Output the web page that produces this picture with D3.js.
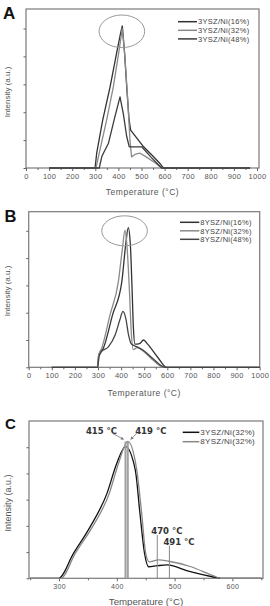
<!DOCTYPE html>
<html>
<head>
<meta charset="utf-8">
<script src="https://cdn.jsdelivr.net/npm/d3@7"></script>
<style>
  body { margin: 0; background: #fff; }
  text { font-family: "Liberation Sans", Arial, sans-serif; }
</style>
</head>
<body>
<script>
// ---- data (temperature in °C, intensity in a.u.) ----
const namesA = ["3YSZ/Ni(16%)", "3YSZ/Ni(32%)", "3YSZ/Ni(48%)"]
const namesB = ["8YSZ/Ni(16%)", "8YSZ/Ni(32%)", "8YSZ/Ni(48%)"]
const namesC = ["3YSZ/Ni(32%)", "8YSZ/Ni(32%)"]

const a16 = [[100,0],[299,0],[306,0.53],[332,1.72],[364,2.91],[392,4.11],[410,4.85],[417,5.09],[427,4.1],[436,2.9],[446,1.75],[453,1.36],[505,0.8],[550,0.42],[580,0.16],[595,0],[970,0]]
const a32 = [[100,0],[303,0],[317,0.53],[349,1.72],[378,2.91],[401,4.11],[417,5.0],[428,4.0],[440,2.5],[450,1.0],[457,0.4],[475,0.5],[494,0.53],[520,0.4],[560,0.18],[587,0],[970,0]]
const a48 = [[100,0],[317,0],[328,0.4],[335,0.53],[357,0.89],[385,1.84],[407,2.55],[421,1.96],[436,1.13],[447,0.76],[501,0.76],[540,0.4],[587,0],[970,0]]

const b16 = [[100,0],[298,0],[303,0.45],[323,0.7],[363,1.92],[403,3.13],[420,4.5],[431,5.12],[440,4.5],[447,3.0],[453,1.5],[460,0.85],[480,0.87],[497,1.0],[515,0.85],[560,0.35],[597,0],[1000,0]]
const b32 = [[100,0],[298,0],[303,0.45],[316,0.7],[352,1.92],[388,3.13],[405,4.3],[417,5.02],[425,4.5],[435,3.0],[444,1.3],[452,0.65],[470,0.72],[495,0.6],[540,0.25],[585,0],[1000,0]]
const b48 = [[100,0],[298,0],[305,0.4],[315,0.57],[345,0.75],[375,1.2],[395,1.75],[408,2.05],[420,1.8],[432,1.2],[445,0.85],[470,0.75],[500,0.6],[540,0.3],[590,0],[1000,0]]

const c3 = [[250,0],[299,0],[325,0.95],[354,1.97],[383,3.24],[400,4.39],[415,5.02],[432,4.13],[440,2.48],[448,0.95],[455,0.44],[470,0.48],[487,0.51],[527,0.25],[567,0.05],[580,0],[650,0]]
const c8 = [[250,0],[303,0],[328,0.95],[358,1.97],[387,3.24],[403,4.39],[419,5.22],[434,4.2],[443,2.48],[450,0.95],[456,0.63],[472,0.7],[490,0.65],[527,0.45],[567,0.1],[580,0],[650,0]]

const xTicksAB = [0,100,200,300,400,500,600,700,800,900,1000]
const xTicksC = [300,400,500,600]
const peaksC = [415,419]
const peakTop = 5.22
const shouldersC = [470,491]
const shoulderTops = [1.65,1.25]

const svg = d3.select("body").append("svg")
  .attr("width", 270)
  .attr("height", 606)

function panel(p) {
  const x = d3.scaleLinear().domain(p.xDomain).range([p.left, p.xRight])
  const y = d3.scaleLinear().domain(p.yDomain).range([p.bottom, p.top])
  const g = svg.append("g")

  // box
  g.append("rect")
    .attr("x", p.left).attr("y", p.top)
    .attr("width", p.right - p.left).attr("height", p.bottom - p.top)
    .attr("fill", "none").attr("stroke", "#7a7a7a").attr("stroke-width", 1.2)

  // x axis, major + minor
  const xa = g.append("g")
    .attr("transform", `translate(0,${p.bottom})`)
    .call(d3.axisBottom(x).tickValues(p.xTicks).tickFormat(d3.format("d"))
      .tickSize(3).tickPadding(2.5).tickSizeOuter(0))
  g.append("g")
    .attr("transform", `translate(0,${p.bottom})`)
    .call(d3.axisBottom(x).tickValues(p.xMinor).tickSize(2).tickFormat("").tickSizeOuter(0))
  g.append("g")
    .attr("transform", `translate(${p.left},0)`)
    .call(d3.axisLeft(y).tickValues(d3.range(0, p.yDomain[1], 1)).tickSize(2.5).tickFormat("").tickSizeOuter(0))
  g.selectAll(".domain").remove()
  g.selectAll(".tick line").attr("stroke", "#666")
  xa.selectAll("text")
    .attr("font-size", p.tickFont).attr("fill", "#555")
    .attr("letter-spacing", p.tickSpacing)
    .style("font-family", "'Liberation Sans', Arial, sans-serif")

  // titles
  g.append("text")
    .attr("x", (p.left + p.right) / 2).attr("y", p.xTitleY)
    .attr("text-anchor", "middle").attr("font-size", p.titleFont)
    .attr("letter-spacing", p.titleSpacing).attr("fill", "#555")
    .text("Temperature (°C)")
  g.append("text")
    .attr("transform", `translate(${p.yTitleX},${p.yTitleY}) rotate(-90)`)
    .attr("text-anchor", "middle").attr("font-size", p.yTitleFont).attr("fill", "#555")
    .text("Intensity (a.u.)")
  g.append("text")
    .attr("x", p.letterX).attr("y", p.letterY)
    .attr("font-size", p.letterFont).attr("font-weight", "bold").attr("fill", "#111")
    .text(p.letter)

  // curves
  const line = d3.line().x(d => x(d[0])).y(d => y(d[1])).curve(p.curve)
  p.series.forEach((s, i) => {
    g.append("path")
      .attr("d", line(s))
      .attr("fill", "none")
      .attr("stroke", p.colors[i])
      .attr("stroke-width", 1.3)
      .attr("stroke-linejoin", "round")
  })

  // legend
  p.names.forEach((n, i) => {
    const ly = p.legendY + i * p.legendStep
    g.append("line")
      .attr("x1", p.legendX).attr("x2", p.legendX + p.legendLen)
      .attr("y1", ly).attr("y2", ly)
      .attr("stroke", p.colors[i]).attr("stroke-width", 1.5)
    g.append("text")
      .attr("x", p.legendX + p.legendLen + 1).attr("y", ly + 2.7)
      .attr("font-size", p.legendFont).attr("letter-spacing", 0.3).attr("fill", "#444")
      .text(n)
  })

  return { g, x, y }
}

// ---- panel A ----
const A = panel({
  letter: "A", letterX: 3, letterY: 18.5, letterFont: 17,
  left: 26, right: 259, xRight: 257, top: 9, bottom: 168,
  xDomain: [0, 1000], yDomain: [0, 5.7],
  xTicks: xTicksAB, xMinor: d3.range(50, 1000, 100),
  tickFont: 7.5, tickSpacing: 0.3,
  xTitleY: 195, titleFont: 8.5, titleSpacing: 0.5,
  yTitleX: 9.5, yTitleY: 92, yTitleFont: 8,
  series: [a16, a32, a48], names: namesA,
  colors: ["#333", "#8a8a8a", "#3c3c3c"], curve: d3.curveLinear,
  legendX: 178, legendLen: 19, legendY: 21.7, legendStep: 8.6, legendFont: 7.5
})
A.g.append("ellipse")
  .attr("cx", A.x(415)).attr("cy", A.y(4.9))
  .attr("rx", 22.8).attr("ry", 16.3)
  .attr("fill", "none").attr("stroke", "#999").attr("stroke-width", 1)

// ---- panel B ----
const B = panel({
  letter: "B", letterX: 4.5, letterY: 221.7, letterFont: 16.5,
  left: 28.7, right: 259.7, xRight: 259.7, top: 211.7, bottom: 367.3,
  xDomain: [0, 1000], yDomain: [0, 5.7],
  xTicks: xTicksAB, xMinor: d3.range(50, 1000, 100),
  tickFont: 7.5, tickSpacing: 0.3,
  xTitleY: 396, titleFont: 8.5, titleSpacing: 0.5,
  yTitleX: 10, yTitleY: 291, yTitleFont: 8,
  series: [b16, b32, b48], names: namesB,
  colors: ["#333", "#8a8a8a", "#444"], curve: d3.curveMonotoneX,
  legendX: 180, legendLen: 19.3, legendY: 222.3, legendStep: 8.5, legendFont: 7.5
})
B.g.append("ellipse")
  .attr("cx", B.x(415)).attr("cy", B.y(5.0))
  .attr("rx", 22.8).attr("ry", 15)
  .attr("fill", "none").attr("stroke", "#999").attr("stroke-width", 1)

// ---- panel C ----
const C = panel({
  letter: "C", letterX: 5, letterY: 429, letterFont: 15,
  left: 29, right: 263, xRight: 263, top: 421, bottom: 578.3,
  xDomain: [248, 653], yDomain: [0, 6],
  xTicks: xTicksC, xMinor: [250, 350, 450, 550, 650],
  tickFont: 7, tickSpacing: 0.3,
  xTitleY: 605, titleFont: 9.7, titleSpacing: 0,
  yTitleX: 10.5, yTitleY: 503, yTitleFont: 9,
  series: [c3, c8], names: namesC,
  colors: ["#111", "#888"], curve: d3.curveMonotoneX,
  legendX: 182.7, legendLen: 16.6, legendY: 432.3, legendStep: 9.4, legendFont: 8
})
// peak markers
peaksC.forEach(t => {
  C.g.append("line")
    .attr("x1", C.x(t)).attr("x2", C.x(t))
    .attr("y1", C.y(0)).attr("y2", C.y(peakTop))
    .attr("stroke", "#a0a0a0").attr("stroke-width", 2)
})
shouldersC.forEach((t, i) => {
  C.g.append("line")
    .attr("x1", C.x(t)).attr("x2", C.x(t))
    .attr("y1", C.y(0)).attr("y2", C.y(shoulderTops[i]))
    .attr("stroke", "#888").attr("stroke-width", 1)
})
// labels
const lab = (x, y, s, anchor) => C.g.append("text")
  .attr("x", x).attr("y", y).attr("text-anchor", anchor)
  .attr("font-size", 8.5).attr("font-weight", "bold").attr("fill", "#333")
  .style("font-family", "'DejaVu Sans', sans-serif")
  .text(s)
lab(C.x(peaksC[0]) - 24, 433.5, peaksC[0] + " °C", "middle")
lab(C.x(peaksC[1]) + 23, 433.5, peaksC[1] + " °C", "middle")
lab(C.x(shouldersC[0]) - 6, 533.5, shouldersC[0] + " °C", "start")
lab(C.x(shouldersC[1]) - 6, 545, shouldersC[1] + " °C", "start")

// arrows
const defs = svg.append("defs")
defs.append("marker")
  .attr("id", "arr").attr("viewBox", "0 0 6 6").attr("refX", 5).attr("refY", 3)
  .attr("markerWidth", 4).attr("markerHeight", 4).attr("orient", "auto")
  .append("path").attr("d", "M0,0L6,3L0,6Z").attr("fill", "#777")
const ax1 = C.x(peaksC[0]) - 2, ax2 = C.x(peaksC[1]) + 3, ay = C.y(peakTop + 0.08)
C.g.append("line").attr("x1", ax1 - 11).attr("y1", ay - 6).attr("x2", ax1).attr("y2", ay)
  .attr("stroke", "#777").attr("stroke-width", 0.8).attr("marker-end", "url(#arr)")
C.g.append("line").attr("x1", ax2 + 6).attr("y1", ay - 6).attr("x2", ax2).attr("y2", ay)
  .attr("stroke", "#777").attr("stroke-width", 0.8).attr("marker-end", "url(#arr)")
</script>
</body>
</html>
